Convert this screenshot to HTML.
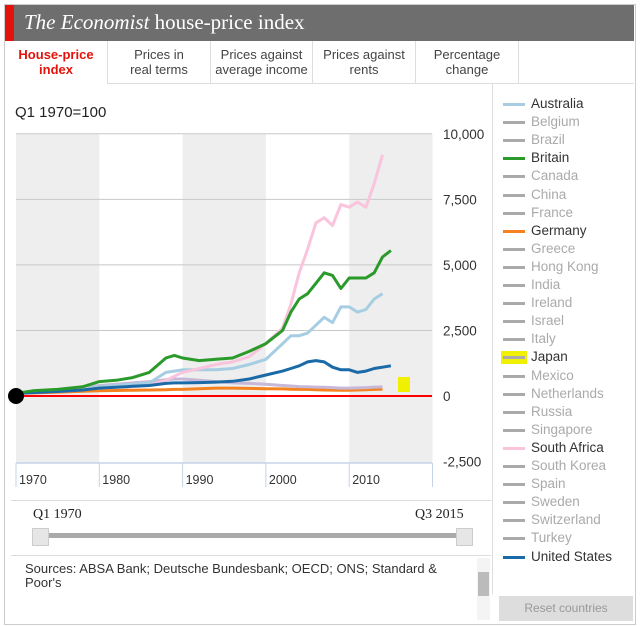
<!DOCTYPE html>
<html><head><meta charset="utf-8"><style>
body{margin:0;background:#fff;font-family:"Liberation Sans",Verdana,sans-serif;}
#w{position:relative;width:640px;height:626px;overflow:hidden;}
.abs{position:absolute;}
.tab{position:absolute;top:41px;height:43px;border-left:1px solid #ddd;border-bottom:1px solid #ddd;background:#fff;font-size:13px;color:#444;text-align:center;line-height:15px;box-sizing:border-box;padding-top:6px;}
.leg{position:absolute;left:503px;font-size:13.5px;color:#aaa;height:18px;line-height:18px;}
.leg span.sw{position:absolute;left:0;top:8px;width:22px;height:3px;background:#aaa;}
.leg span.t{position:absolute;left:28px;white-space:nowrap;}
</style></head><body><div id="w">
<div class="abs" style="left:4px;top:4px;width:630px;height:619px;border:1px solid #ccc;"></div>
<div class="abs" style="left:5px;top:5px;width:629px;height:36px;background:#6e6e6e;"></div>
<div class="abs" style="left:5px;top:5px;width:9px;height:36px;background:#e3120b;"></div>
<div class="abs" style="left:24px;top:10px;font-family:'Liberation Serif',serif;font-size:21px;color:#fff;"><i>The Economist</i> house-price index</div>
<div class="tab" style="left:5px;width:102px;color:#e3120b;font-weight:bold;border-bottom:none;border-left:none;">House-price<br>index</div>
<div class="tab" style="left:107px;width:103px;">Prices in<br>real terms</div>
<div class="tab" style="left:210px;width:102px;">Prices against<br>average income</div>
<div class="tab" style="left:312px;width:103px;">Prices against<br>rents</div>
<div class="tab" style="left:415px;width:103px;">Percentage<br>change</div>
<div class="tab" style="left:518px;width:116px;border-right:none;"></div>
<div class="abs" style="left:15px;top:104px;font-size:15px;color:#222;">Q1 1970=100</div>
<div class="abs" style="left:492px;top:84px;width:1px;height:510px;background:#ddd;"></div>
<svg class="abs" id="chart" style="left:0;top:0" width="492" height="500"></svg>
<div id="legend"></div>
<div class="abs" style="left:11px;top:500px;width:480px;height:120px;border-top:1px solid #ddd;"></div>
<div class="abs" style="left:33px;top:507px;font-family:'Liberation Serif',serif;font-size:14px;color:#222;">Q1 1970</div>
<div class="abs" style="left:415px;top:507px;font-family:'Liberation Serif',serif;font-size:14px;color:#222;">Q3 2015</div>
<div class="abs" style="left:40px;top:533px;width:425px;height:5px;background:#aaa;"></div>
<div class="abs" style="left:32px;top:528px;width:15px;height:16px;background:#e6e6e6;border:1px solid #ccc;"></div>
<div class="abs" style="left:456px;top:528px;width:15px;height:16px;background:#e6e6e6;border:1px solid #ccc;"></div>
<div class="abs" style="left:11px;top:555px;width:480px;height:67px;border-top:1px solid #ddd;"></div>
<div class="abs" style="left:25px;top:562px;width:420px;font-size:13px;color:#333;line-height:14px;">Sources: ABSA Bank; Deutsche Bundesbank; OECD; ONS; Standard &amp; Poor's</div>
<div class="abs" style="left:477px;top:558px;width:13px;height:62px;background:#f4f4f4;"><div style="position:absolute;left:1px;top:14px;width:11px;height:24px;background:#bbb;"></div></div>
<div class="abs" style="left:499px;top:596px;width:134px;height:25px;background:#ddd;color:#999;font-size:12px;text-align:center;line-height:25px;">Reset countries</div>
<script>
var years=[1970,1972,1975,1978,1980,1982,1984,1986,1988,1989,1990,1992,1994,1996,1998,2000,2002,2003,2004,2005,2006,2007,2008,2009,2010,2011,2012,2013,2014,2015];
var britain=[100,200,250,350,550,600,700,900,1450,1550,1450,1350,1400,1450,1700,2000,2500,3200,3700,3900,4300,4700,4600,4100,4500,4500,4500,4700,5300,5550];
var southAfrica=[100,150,200,260,300,330,360,400,600,750,900,1050,1200,1300,1500,2000,2600,3500,4700,5600,6600,6800,6500,7300,7200,7400,7200,8100,9200,null];
var australia=[100,150,200,280,350,400,450,500,900,950,1000,1000,1000,1050,1200,1400,2000,2300,2300,2400,2700,3000,2800,3400,3400,3200,3300,3700,3900,null];
var unitedStates=[100,130,170,230,300,330,370,400,480,500,500,510,530,560,650,800,950,1050,1150,1300,1350,1300,1100,1000,1000,900,950,1050,1100,1150];
var japan=[100,150,200,300,400,450,500,550,620,650,650,600,550,500,480,450,400,380,360,350,340,330,320,300,300,310,320,340,350,null];
var germany=[100,120,150,180,200,210,220,230,240,250,250,280,300,300,290,280,270,260,250,250,240,230,225,220,220,230,240,250,260,null];
var yTicks=[10000,7500,5000,2500,0,-2500];
var yTickLabels=["10,000","7,500","5,000","2,500","0","-2,500"];
var xTicks=[1970,1980,1990,2000,2010];
var NS='http://www.w3.org/2000/svg';
var svg=document.getElementById('chart');
function X(yr){return 16+(yr-1970)*8.33;}
function Y(v){return 396-v*0.02622;}
function el(t,a){var e=document.createElementNS(NS,t);for(var k in a)e.setAttribute(k,a[k]);svg.appendChild(e);return e;}
[[1970,1980],[1990,2000],[2010,2020]].forEach(function(b){
 var r=el('rect',{x:X(b[0]),y:134,width:X(b[1])-X(b[0]),height:329,fill:'#eeeeee'});
 
 
});
yTicks.forEach(function(v,i){
 if(v!==0&&v!==-2500){var l=el('line',{x1:16,x2:432,y1:Y(v),y2:Y(v),stroke:'#c8c8c8','stroke-width':1});
 
 }
 var t=el('text',{x:443,y:Y(v)+5,'font-size':'13.5','fill':'#333','font-family':'Liberation Sans, sans-serif'});
 
 
 t.textContent=yTickLabels[i];
});
var ax=el('line',{x1:16,x2:432,y1:463,y2:463,stroke:'#c5d3e6','stroke-width':1.5});


xTicks.concat([2020]).forEach(function(yr){
 var l=el('line',{x1:X(yr),x2:X(yr),y1:463,y2:487,stroke:'#c5d3e6','stroke-width':1});
 
 
});
xTicks.forEach(function(yr){
 var t=el('text',{x:X(yr)+3,y:484,'font-size':'12.5','fill':'#333','font-family':'Liberation Sans, sans-serif'});
 
 
 t.textContent=yr;
});
var hl=el('rect',{x:398,y:377,width:12,height:15,fill:'#f0f000'});


function series(vals,color,w,name){
 var d='';vals.forEach(function(v,i){if(v===null)return;d+=(d?'L':'M')+X(years[i]).toFixed(1)+','+Y(v).toFixed(1);});
 var p=el('path',{d:d,fill:'none',stroke:color,'stroke-width':w,'stroke-linejoin':'round'});
 
 
}
series(germany,'#f5821f',3,'line-germany');
series(japan,'#c7b8d8',3,'line-japan');
series(australia,'#a6cde2',3,'line-australia');
series(southAfrica,'#f9c4dc',3,'line-south-africa');
series(unitedStates,'#1a6aa8',3,'line-united-states');
series(britain,'#2a9a2a',3,'line-britain');
var z=el('line',{x1:16,x2:432,y1:Y(0),y2:Y(0),stroke:'#ff0000','stroke-width':2});


var c=el('circle',{cx:16,cy:Y(0),r:8,fill:'#000'});


var countries=["Australia","Belgium","Brazil","Britain","Canada","China","France","Germany","Greece","Hong Kong","India","Ireland","Israel","Italy","Japan","Mexico","Netherlands","Russia","Singapore","South Africa","South Korea","Spain","Sweden","Switzerland","Turkey","United States"];
var active={"Australia":"#a6cde2","Britain":"#2a9a2a","Germany":"#f5821f","South Africa":"#f9c4dc","United States":"#1a6aa8"};
var lg=document.getElementById('legend');
countries.forEach(function(n,i){
 var d=document.createElement('div');d.className='leg';d.style.top=(95+i*18.1)+'px';
 
 
 var col=active[n];
 var sw='<span class="sw" style="background:'+(col||'#aaa')+'"></span>';
 if(n==='Japan')sw='<span class="sw" style="left:-2px;top:3px;width:26px;height:13px;background:#f0f000"></span><span class="sw" style="background:#aaa"></span>';
 d.innerHTML=sw+'<span class="t" style="color:'+((col||n==='Japan')?'#333':'#aaa')+'">'+n+'</span>';
 lg.appendChild(d);
});
</script>
</div></body></html>
